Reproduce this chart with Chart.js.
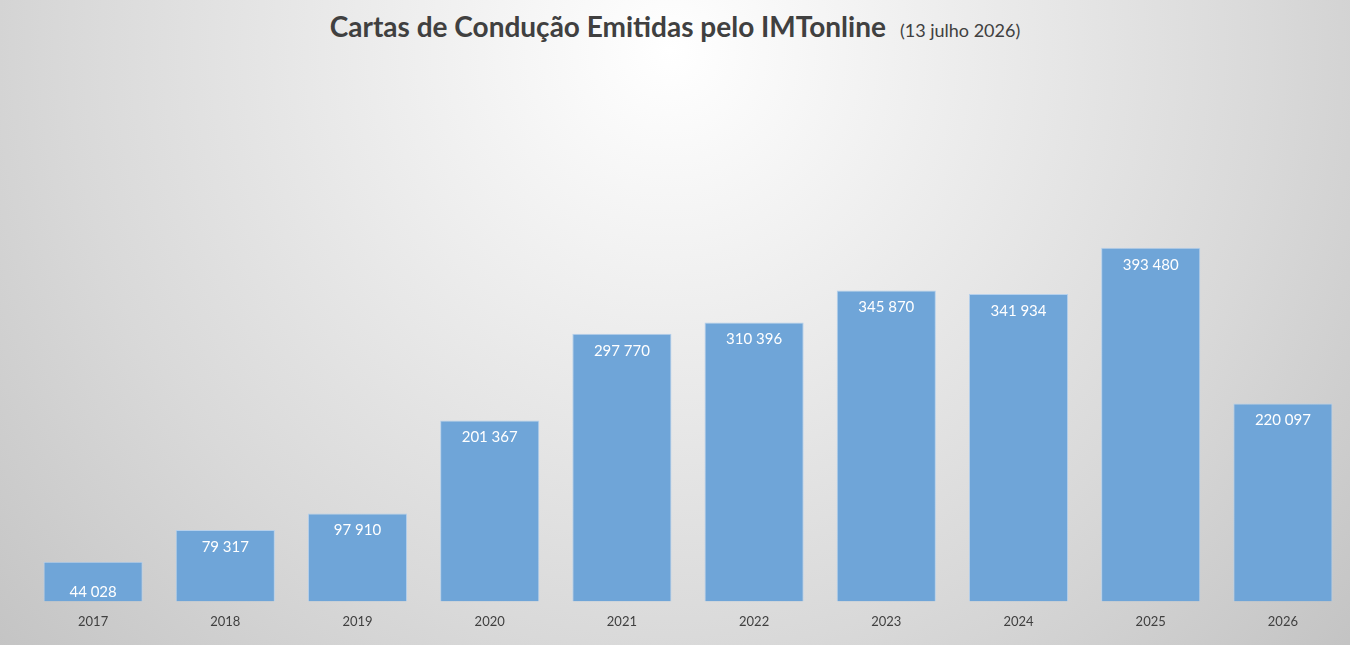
<!DOCTYPE html>
<html lang="pt">
  <head>
    <meta charset="UTF-8" />
    <title>Cartas de Condução Emitidas pelo IMTonline</title>
    <script src="https://cdn.jsdelivr.net/npm/chart.js"></script>
    <style>
      html,
      body {
        margin: 0;
        width: 1350px;
        height: 645px;
        overflow: hidden;
        background: radial-gradient(
          circle at 670px 50px,
          #ffffff 0px,
          #d9d9d9 600px,
          #c4c4c4 900px
        );
      }
      #title {
        position: absolute;
        top: 9px;
        left: 0;
        width: 1350px;
        text-align: center;
        font-family: Lato, sans-serif;
        color: #404040;
        white-space: nowrap;
      }
      #title b {
        font-size: 28px;
        font-weight: 700;
      }
      #title span {
        font-size: 18px;
        margin-left: 14px;
      }
      #wrap {
        position: absolute;
        left: 0;
        top: 0;
        width: 1350px;
        height: 645px;
      }
    </style>
  </head>
  <body>
    <div id="title"><b>Cartas de Condução Emitidas pelo IMTonline</b><span>(13 julho 2026)</span></div>
    <div id="wrap"><canvas id="myChart"></canvas></div>
    <script>
      const years = ["2017", "2018", "2019", "2020", "2021", "2022", "2023", "2024", "2025", "2026"];
      const cartas = [44028, 79317, 97910, 201367, 297770, 310396, 345870, 341934, 393480, 220097];

      const fmt = (v) => String(v).replace(/\B(?=(\d{3})+(?!\d))/g, " ");

      // labels brancos dentro do topo das barras
      const barLabels = {
        id: "barLabels",
        afterDatasetsDraw(chart) {
          const { ctx } = chart;
          ctx.save();
          ctx.fillStyle = "#ffffff";
          ctx.font = "15px Lato, sans-serif";
          ctx.textAlign = "center";
          ctx.textBaseline = "middle";
          chart.getDatasetMeta(0).data.forEach((bar, i) => {
            let y = bar.y + 17;
            if (bar.base - bar.y < 50) y = bar.base - 9;
            ctx.fillText(fmt(cartas[i]), bar.x, y);
          });
          ctx.restore();
        },
      };

      new Chart(document.getElementById("myChart"), {
        type: "bar",
        data: {
          labels: years,
          datasets: [
            {
              data: cartas,
              backgroundColor: "#6fa5d8",
              borderColor: "#b5d0ec",
              borderWidth: 1,
              categoryPercentage: 1,
              barPercentage: 0.75,
            },
          ],
        },
        options: {
          responsive: true,
          maintainAspectRatio: false,
          animation: false,
          layout: { padding: { top: 152, left: 27, right: 1, bottom: 2 } },
          plugins: {
            legend: { display: false },
            tooltip: { enabled: false },
          },
          scales: {
            x: {
              grid: { display: false, drawTicks: false },
              border: { display: false },
              ticks: {
                padding: 13,
                color: "#404040",
                font: { family: "Lato, sans-serif", size: 13 },
              },
            },
            y: {
              display: false,
              min: 0,
              max: 500000,
            },
          },
        },
        plugins: [barLabels],
      });
    </script>
  </body>
</html>
